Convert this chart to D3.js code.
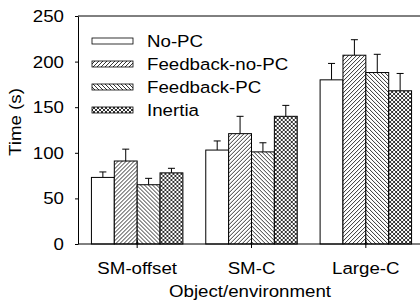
<!DOCTYPE html>
<html>
<head>
<meta charset="utf-8">
<script src="https://cdn.jsdelivr.net/npm/d3@7"></script>
<style>
  body { margin: 0; background: #fff; }
  svg { display: block; font-family: "Liberation Sans", Arial, sans-serif; }
</style>
</head>
<body>
<svg id="chart" width="420" height="308"></svg>
<script>
// data
const categories = ["SM-offset", "SM-C", "Large-C"];
const series = ["No-PC", "Feedback-no-PC", "Feedback-PC", "Inertia"];
const noPC       = [73, 103, 180];
const fbNoPC     = [91, 121, 207];
const fbPC       = [65, 101, 188];
const inertia    = [78, 140, 168];
const errNoPC    = [6, 10, 18];
const errFbNoPC  = [13, 19, 17];
const errFbPC    = [7, 10, 20];
const errInertia = [5, 12, 19];
const yTicks = [0, 50, 100, 150, 200, 250];

const values = [noPC, fbNoPC, fbPC, inertia];
const errors = [errNoPC, errFbNoPC, errFbPC, errInertia];
const fills = ["#fff", "url(#hatchF)", "url(#hatchB)", "url(#cross)"];

const margin = {top: 16, right: -3, bottom: 64, left: 78};
const width = 420, height = 308;
const fontSize = 17;
const stretch = 1.1; // the original lettering is a bit wider than Arial

const svg = d3.select("#chart");

// widen text horizontally around its anchor point
function widen(sel) {
  sel.each(function() {
    const t = d3.select(this);
    const x = +t.attr("x") || 0, y = +t.attr("y") || 0;
    const tr = t.attr("transform") || "";
    t.attr("x", 0).attr("y", 0)
      .attr("transform", tr + " translate(" + x + "," + y + ") scale(" + stretch + ",1)");
  });
}

// hatch patterns
const defs = svg.append("defs");
function hatch(id, paths) {
  const p = defs.append("pattern")
    .attr("id", id)
    .attr("patternUnits", "userSpaceOnUse")
    .attr("width", 4).attr("height", 4);
  p.append("rect").attr("width", 4).attr("height", 4).attr("fill", "#fff");
  paths.forEach(d => p.append("path").attr("d", d)
    .attr("stroke", "#000").attr("stroke-width", 0.8).attr("fill", "none"));
}
hatch("hatchF", ["M-1,1 l2,-2 M0,4 l4,-4 M3,5 l2,-2"]);
hatch("hatchB", ["M-1,3 l2,2 M0,0 l4,4 M3,-1 l2,2"]);
hatch("cross", ["M-1,1 l2,-2 M0,4 l4,-4 M3,5 l2,-2", "M-1,3 l2,2 M0,0 l4,4 M3,-1 l2,2"]);

const x0 = d3.scaleBand()
  .domain(categories)
  .range([margin.left + 2, width - margin.right])
  .paddingInner(0.2).paddingOuter(0.1);

const x1 = d3.scaleBand()
  .domain(series)
  .range([0, x0.bandwidth()]);

const y = d3.scaleLinear()
  .domain([0, 250])
  .range([height - margin.bottom, margin.top]);

// bars
const groups = svg.append("g")
  .selectAll("g")
  .data(categories)
  .join("g")
  .attr("transform", d => "translate(" + x0(d) + ",0)");

series.forEach((s, si) => {
  const cx = x1(s) + x1.bandwidth() / 2;
  groups.append("line")
    .attr("x1", cx).attr("x2", cx)
    .attr("y1", (d, i) => y(values[si][i]))
    .attr("y2", (d, i) => y(values[si][i] + errors[si][i]))
    .attr("stroke", "#000");
  groups.append("line")
    .attr("x1", cx - 3.5).attr("x2", cx + 3.5)
    .attr("y1", (d, i) => y(values[si][i] + errors[si][i]))
    .attr("y2", (d, i) => y(values[si][i] + errors[si][i]))
    .attr("stroke", "#000");
  groups.append("rect")
    .attr("x", x1(s))
    .attr("y", (d, i) => y(values[si][i]))
    .attr("width", x1.bandwidth())
    .attr("height", (d, i) => y(0) - y(values[si][i]))
    .attr("fill", fills[si])
    .attr("stroke", "#000")
    .attr("stroke-width", 1);
});

// axes
const xAxis = svg.append("g")
  .attr("transform", "translate(0," + y(0) + ")")
  .call(d3.axisBottom(x0).tickSize(4).tickSizeOuter(0).tickPadding(14));
xAxis.select(".domain").attr("d", "M" + margin.left + ",0H" + width);
xAxis.selectAll(".tick line").attr("y1", -4).attr("y2", 4);

const yAxis = svg.append("g")
  .attr("transform", "translate(" + margin.left + ",0)")
  .call(d3.axisLeft(y).tickValues(yTicks).tickSize(3).tickSizeOuter(0).tickPadding(11));

svg.selectAll(".tick text")
  .attr("font-size", fontSize)
  .attr("fill", "#000")
  .attr("font-family", "Liberation Sans, Arial, sans-serif")
  .call(widen);

// top frame line
svg.append("line")
  .attr("x1", margin.left).attr("x2", width)
  .attr("y1", y(250)).attr("y2", y(250))
  .attr("stroke", "#000");

// axis titles
svg.append("text")
  .attr("text-anchor", "middle")
  .attr("x", 250).attr("y", 297)
  .attr("font-size", fontSize)
  .text("Object/environment")
  .call(widen);

svg.append("text")
  .attr("text-anchor", "middle")
  .attr("transform", "translate(21,122) rotate(-90)")
  .attr("font-size", fontSize)
  .text("Time (s)")
  .call(widen);

// legend
const legend = svg.append("g")
  .selectAll("g")
  .data(series)
  .join("g")
  .attr("transform", (d, i) => "translate(92," + (41 + i * 23) + ")");
legend.append("rect")
  .attr("x", 0).attr("y", -3)
  .attr("width", 41).attr("height", 6)
  .attr("fill", (d, i) => fills[i])
  .attr("stroke", "#000")
  .attr("stroke-width", 0.8);
legend.append("text")
  .attr("x", 55).attr("y", 0)
  .attr("dy", "0.35em")
  .attr("font-size", fontSize)
  .text(d => d)
  .call(widen);
</script>
</body>
</html>
